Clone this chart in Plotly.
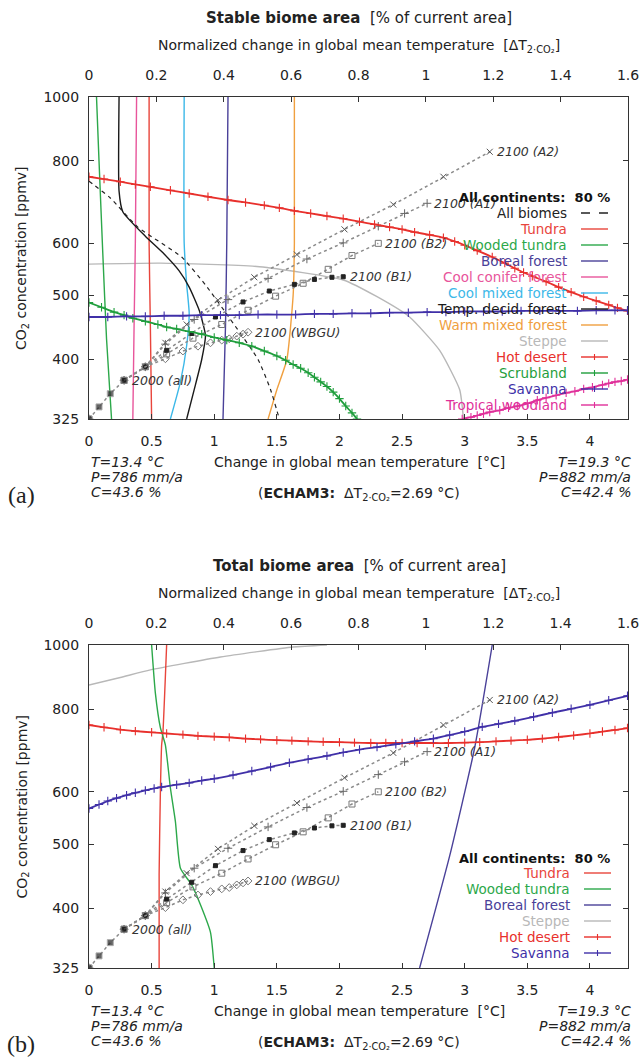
import numpy as np
import plotly.graph_objects as go

W, H = 643, 1057
FONT = "DejaVu Sans"

# ---------------- data (ΔT in °C, CO2 in ppmv) ----------------
# Panel (a): stable biome area, 80 % contours
allb_T = [0, 0.05, 0.17, 0.39, 0.74, 0.93, 1.13, 1.35, 1.45, 1.52]
allb_C = [745, 733, 703, 635, 572, 519, 460, 400, 360, 325]
tdec_T = [0.24, 0.24, 0.27, 0.45, 0.60, 0.72, 0.80, 0.88, 0.93, 0.90, 0.84, 0.78]
tdec_C = [1000, 720, 670, 615, 578, 545, 515, 475, 435, 400, 360, 325]
wtun_a_T = [0.06, 0.08, 0.11, 0.14, 0.18]
wtun_a_C = [1000, 800, 580, 430, 325]
ccon_T = [0.38, 0.37, 0.36, 0.35]
ccon_C = [1000, 600, 450, 325]
tun_a_T = [0.48, 0.48, 0.49, 0.50]
tun_a_C = [1000, 600, 450, 325]
cmix_T = [0.76, 0.76, 0.78, 0.80, 0.78, 0.73, 0.65]
cmix_C = [1000, 600, 520, 470, 420, 370, 325]
bor_a_T = [1.11, 1.10, 1.09, 1.07]
bor_a_C = [1000, 600, 450, 325]
wmix_T = [1.64, 1.64, 1.63, 1.58, 1.50, 1.43]
wmix_C = [1000, 600, 500, 400, 360, 325]
step_a_T = [0, 0.57, 1.36, 2.03, 2.30, 2.56, 2.80, 2.96, 2.99]
step_a_C = [558, 560, 553, 528, 498, 464, 413, 360, 325]
hdes_a_T = [0, 0.12, 0.25, 0.37, 0.49, 0.65, 0.8, 0.95, 1.11, 1.25, 1.4, 1.52, 1.64, 1.77, 1.9, 2.03, 2.16, 2.28, 2.4,
            2.5, 2.6, 2.72, 2.83, 2.92, 3.0, 3.1, 3.22, 3.32, 3.4, 3.47, 3.54, 3.65, 3.75, 3.85, 3.95, 4.05, 4.15, 4.22, 4.3]
hdes_a_C = [757, 751, 744, 737, 731, 722, 714, 706, 698, 692, 685, 679, 672, 666, 660, 654, 647, 641, 635,
            630, 624, 618, 612, 604, 596, 585, 572, 560, 550, 542, 535, 525, 515, 506, 498, 491, 484, 479, 474]
scrub_T = [0, 0.1, 0.2, 0.28, 0.35, 0.45, 0.55, 0.62, 0.7, 0.8, 0.9, 1.0, 1.10, 1.2, 1.3, 1.4, 1.5, 1.57, 1.63, 1.69,
           1.75, 1.8, 1.85, 1.9, 1.95, 2.0, 2.05, 2.1, 2.14]
scrub_C = [488, 480, 472, 467, 462, 457, 452, 448, 445, 441, 437, 432, 428, 424, 419, 412, 405, 399, 393, 388,
           382, 376, 370, 364, 357, 349, 340, 332, 325]
sav_a_T = [0, 0.15, 0.3, 0.45, 0.6, 0.75, 0.9, 1.05, 1.2, 1.35, 1.5, 1.65, 1.8, 1.95, 2.1, 2.25, 2.4, 2.55, 2.7, 2.85,
           3.0, 3.15, 3.3, 3.45, 3.6, 3.75, 3.9, 4.05, 4.2, 4.3]
sav_a_C = [464, 464, 465, 465, 466, 466, 467, 467, 467, 468, 468, 468, 469, 469, 470, 470, 471, 471, 472, 472,
           473, 473, 473, 474, 474, 474, 474, 475, 475, 475]
trop_T = [2.98, 3.05, 3.1, 3.15, 3.2, 3.28, 3.35, 3.42, 3.5, 3.58, 3.65, 3.73, 3.81, 3.88, 3.95, 4.02, 4.1, 4.15, 4.2, 4.25, 4.3]
trop_C = [325, 327, 329, 331, 333, 335, 338, 340, 343, 347, 350, 353, 356, 358, 361, 363, 366, 368, 370, 371, 373]

# Panel (b): total biome area, 80 % contours
step_b_T = [0, 0.25, 0.49, 1.05, 1.63, 1.90]
step_b_C = [870, 893, 917, 959, 993, 1000]
tun_b_T = [0.62, 0.59, 0.58, 0.57, 0.56, 0.56]
tun_b_C = [1000, 736, 706, 600, 450, 325]
wtun_b_T = [0.50, 0.53, 0.57, 0.61, 0.65, 0.69, 0.73, 0.82, 0.89, 0.97, 1.00]
wtun_b_C = [1000, 846, 750, 706, 608, 541, 460, 434, 405, 368, 325]
bor_b_T = [3.22, 3.08, 2.88, 2.64]
bor_b_C = [1000, 700, 480, 325]
hdes_b_T = [0, 0.12, 0.25, 0.37, 0.5, 0.62, 0.75, 0.87, 1.0, 1.12, 1.25, 1.37, 1.5, 1.62, 1.75, 1.87, 2.0, 2.12, 2.25,
            2.37, 2.5, 2.62, 2.75, 2.87, 3.0, 3.12, 3.25, 3.37, 3.5, 3.62, 3.75, 3.87, 4.0, 4.1, 4.2, 4.3]
hdes_b_C = [757, 751, 745, 741, 738, 735, 732, 729, 727, 725, 722, 720, 718, 717, 715, 714, 713, 712, 711,
            711, 711, 711, 711, 711, 712, 713, 715, 717, 719, 722, 726, 730, 735, 740, 744, 749]
sav_b_T = [0, 0.08, 0.15, 0.22, 0.3, 0.37, 0.45, 0.52, 0.58, 0.7, 0.8, 0.9, 1.0, 1.15, 1.3, 1.45, 1.6, 1.75, 1.9, 2.03,
           2.16, 2.3, 2.45, 2.6, 2.75, 2.88, 3.0, 3.14, 3.27, 3.4, 3.55, 3.7, 3.85, 4.0, 4.15, 4.3]
sav_b_C = [566, 574, 581, 587, 593, 598, 603, 607, 610, 615, 619, 624, 628, 636, 645, 654, 664, 672, 680, 688,
           695, 701, 708, 715, 722, 731, 740, 752, 760, 768, 779, 790, 801, 812, 825, 838]

# Emission scenario trajectories (same in both panels), 2000..2100 by decade
hist_T = [0, 0.08, 0.17, 0.28]
hist_C = [325, 339, 355, 372]
A2_T = [0.28, 0.45, 0.61, 0.78, 1.03, 1.32, 1.66, 2.04, 2.43, 2.83, 3.20]
A2_C = [372, 390, 424, 452, 492, 533, 577, 630, 687, 757, 826]
A1_T = [0.28, 0.45, 0.61, 0.84, 1.11, 1.43, 1.74, 2.03, 2.31, 2.52, 2.70]
A1_C = [372, 390, 422, 460, 493, 531, 568, 601, 637, 666, 690]
B2_T = [0.28, 0.45, 0.62, 0.83, 1.06, 1.27, 1.49, 1.71, 1.91, 2.10, 2.31]
B2_C = [372, 390, 408, 431, 452, 475, 499, 522, 548, 575, 600]
B1_T = [0.28, 0.45, 0.62, 0.82, 1.01, 1.23, 1.44, 1.64, 1.80, 1.94, 2.03]
B1_C = [372, 390, 413, 438, 464, 489, 508, 520, 529, 533, 534]
WB_T = [0.28, 0.45, 0.61, 0.75, 0.87, 0.97, 1.06, 1.12, 1.18, 1.23, 1.27]
WB_C = [372, 390, 401, 412, 419, 424, 428, 430, 434, 437, 440]

x_ticks = [0, 0.5, 1, 1.5, 2, 2.5, 3, 3.5, 4]
x_ticklabels = ["0", "0.5", "1", "1.5", "2", "2.5", "3", "3.5", "4"]
xn_ticks = [0, 0.2, 0.4, 0.6, 0.8, 1.0, 1.2, 1.4, 1.6]
xn_ticklabels = ["0", "0.2", "0.4", "0.6", "0.8", "1", "1.2", "1.4", "1.6"]
y_ticks = [325, 400, 500, 600, 800, 1000]
y_ticklabels = ["325", "400", "500", "600", "800", "1000"]
DT2CO2 = 2.69

# colours
C_ALL = "#222222"
C_TUN = "#e8453c"
C_WTUN = "#2ca84a"
C_BOR = "#4a4199"
C_CCON = "#e8559b"
C_CMIX = "#3cb8e8"
C_TDEC = "#1a1a1a"
C_WMIX = "#f0a040"
C_STEP = "#b8b8b8"
C_HDES = "#e8302c"
C_SCRUB = "#1f9e3c"
C_SAV = "#4030a8"
C_TROP = "#e0309a"
C_SCEN = "#8a8a8a"

def px(x):
    return x / W

def py(y):
    return 1 - y / H

fig = go.Figure()

def curve(T, C, color, xa, ya, dash="solid", width=1.4, marks=False):
    fig.add_trace(go.Scatter(
        x=T, y=C, xaxis=xa, yaxis=ya,
        mode="lines+markers" if marks else "lines",
        line=dict(color=color, width=width, dash=dash, shape="spline", smoothing=0.5),
        marker=dict(symbol="cross-thin", size=6, line=dict(color=color, width=1.1)),
        showlegend=False, hoverinfo="skip"))

def scen(xa, ya):
    specs = [
        (A2_T, A2_C, "x-thin", 6, "#555555"),
        (A1_T, A1_C, "cross-thin", 6, "#666666"),
        (B2_T, B2_C, "square-open", 6, "#777777"),
        (B1_T, B1_C, "square", 4, "#222222"),
        (WB_T, WB_C, "diamond-open", 6, "#777777"),
    ]
    for T, C, sym, sz, col in specs:
        fig.add_trace(go.Scatter(
            x=T, y=C, xaxis=xa, yaxis=ya, mode="lines+markers",
            line=dict(color=C_SCEN, width=1.5, dash="dot"),
            marker=dict(symbol=sym, size=sz, color=col, line=dict(color=col, width=1)),
            showlegend=False, hoverinfo="skip"))
    fig.add_trace(go.Scatter(
        x=hist_T, y=hist_C, xaxis=xa, yaxis=ya, mode="lines+markers",
        line=dict(color=C_SCEN, width=1.5, dash="dot"),
        marker=dict(symbol=["circle", "square", "square", "square"], size=[8, 6, 6, 6], color="#222222"),
        showlegend=False, hoverinfo="skip"))

def top_axis_carrier(xa, ya):
    # invisible trace on the normalized top axis so plotly draws it
    fig.add_trace(go.Scatter(
        x=[t / DT2CO2 for t in hist_T], y=hist_C, xaxis=xa, yaxis=ya, mode="markers",
        marker=dict(opacity=0), showlegend=False, hoverinfo="skip"))

# ---- panel (a)
top_axis_carrier("x2", "y")
curve(step_a_T, step_a_C, C_STEP, "x", "y")
curve(wtun_a_T, wtun_a_C, C_WTUN, "x", "y")
curve(ccon_T, ccon_C, C_CCON, "x", "y")
curve(tun_a_T, tun_a_C, C_TUN, "x", "y")
curve(cmix_T, cmix_C, C_CMIX, "x", "y")
curve(bor_a_T, bor_a_C, C_BOR, "x", "y")
curve(wmix_T, wmix_C, C_WMIX, "x", "y")
curve(tdec_T, tdec_C, C_TDEC, "x", "y")
curve(allb_T, allb_C, C_ALL, "x", "y", dash="4px,4px", width=1.2)
scen("x", "y")
curve(hdes_a_T, hdes_a_C, C_HDES, "x", "y", width=1.8, marks=True)
curve(scrub_T, scrub_C, C_SCRUB, "x", "y", width=1.8, marks=True)
curve(sav_a_T, sav_a_C, C_SAV, "x", "y", width=1.8, marks=True)
curve(trop_T, trop_C, C_TROP, "x", "y", width=1.8, marks=True)

# ---- panel (b)
top_axis_carrier("x4", "y2")
curve(step_b_T, step_b_C, C_STEP, "x3", "y2")
curve(tun_b_T, tun_b_C, C_TUN, "x3", "y2")
curve(wtun_b_T, wtun_b_C, C_WTUN, "x3", "y2")
curve(bor_b_T, bor_b_C, C_BOR, "x3", "y2")
scen("x3", "y2")
curve(hdes_b_T, hdes_b_C, C_HDES, "x3", "y2", width=1.8, marks=True)
curve(sav_b_T, sav_b_C, C_SAV, "x3", "y2", width=1.8, marks=True)

X0, X1 = 89, 628
YA0, YA1 = 97, 419
YB0, YB1 = 645, 968

tickfont = dict(family=FONT, size=14, color="#222")
axline = dict(showline=True, linecolor="#333", linewidth=1.3, showgrid=False, zeroline=False,
              ticks="inside", ticklen=5, tickcolor="#333", tickwidth=1.2, tickfont=tickfont,
              automargin=False)

def xbottom(anchor):
    return dict(domain=[px(X0), px(X1)], anchor=anchor, range=[0, 1.6 * DT2CO2],
                tickvals=x_ticks, ticktext=x_ticklabels, ticklabelstandoff=9, **axline)

def xtop(over, anchor):
    return dict(domain=[px(X0), px(X1)], anchor=anchor, overlaying=over, side="top",
                range=[0, 1.6], tickvals=xn_ticks, ticktext=xn_ticklabels,
                ticklabelstandoff=10, **axline)

def yax(top, bot, anchor):
    return dict(domain=[py(bot), py(top)], anchor=anchor, type="log",
                range=[np.log10(325), 3], tickvals=y_ticks, ticktext=y_ticklabels,
                mirror="ticks", ticklabelstandoff=6, **axline)

fig.update_layout(
    width=W, height=H, margin=dict(l=0, r=0, t=0, b=0, pad=0, autoexpand=False),
    paper_bgcolor="white", plot_bgcolor="white", showlegend=False,
    xaxis=xbottom("y"), xaxis2=xtop("x", "y"), yaxis=yax(YA0, YA1, "x"),
    xaxis3=xbottom("y2"), xaxis4=xtop("x3", "y2"), yaxis2=yax(YB0, YB1, "x3"),
)

ann = []
shapes = []

def text(x, y, s, size=13, anchor="center", color="#222", family=FONT, angle=0, xref="paper", yref="paper", xshift=0):
    ann.append(dict(x=x, y=y, xref=xref, yref=yref, text=s, showarrow=False,
                    xanchor=anchor, yanchor="middle", textangle=angle, xshift=xshift,
                    font=dict(family=family, size=size, color=color)))

def panel_text(top, bot, title, letter):
    cx = px(359)
    text(cx, py(top - 79), "<b>" + title + "</b>  [% of current area]", size=15)
    text(cx, py(top - 51), "Normalized change in global mean temperature  [ΔT<sub>2·CO₂</sub>]", size=14)
    text(cx, py(bot + 43), "Change in global mean temperature  [°C]", size=14)
    text(cx, py(bot + 75), "(<b>ECHAM3:</b>  ΔT<sub>2·CO₂</sub>=2.69 °C)", size=14)
    for i, s in enumerate(["T=13.4 °C", "P=786 mm/a", "C=43.6 %"]):
        text(px(89), py(bot + 43 + 15 * i), "<i>" + s + "</i>", size=14, anchor="left")
    for i, s in enumerate(["T=19.3 °C", "P=882 mm/a", "C=42.4 %"]):
        text(px(633), py(bot + 43 + 15 * i), "<i>" + s + "</i>", size=14, anchor="right")
    text(px(21), py(bot + 76), letter, size=24, family="Liberation Serif")
    text(px(22), py((top + bot) / 2), "CO<sub>2</sub> concentration [ppmv]", size=14, angle=-90)

panel_text(YA0, YA1, "Stable biome area", "(a)")
panel_text(YB0, YB1, "Total biome area", "(b)")

def scen_labels(xa, ya):
    labs = [(A2_T, A2_C, "2100 (A2)"), (A1_T, A1_C, "2100 (A1)"), (B2_T, B2_C, "2100 (B2)"),
            (B1_T, B1_C, "2100 (B1)"), (WB_T, WB_C, "2100 (WBGU)")]
    for T, C, s in labs:
        text(T[-1], np.log10(C[-1]), "<i>" + s + "</i>", size=12.5, anchor="left",
             color="#333", xref=xa, yref=ya, xshift=5)
    text(hist_T[-1], np.log10(hist_C[-1]), "<i>2000 (all)</i>", size=12.5, anchor="left",
         color="#333", xref=xa, yref=ya, xshift=6)

scen_labels("x", "y")
scen_labels("x3", "y2")

def legend(title_y, first_y, entries, text_right, s0, s1):
    text(px(612), py(title_y), "<b>All continents:  80 %</b>", size=13, anchor="right", color="#111")
    for i, (name, col, dash, marks) in enumerate(entries):
        y = first_y + 16 * i
        text(px(text_right), py(y), name, size=13.5, anchor="right", color=col)
        shapes.append(dict(type="line", xref="paper", yref="paper", x0=px(s0), x1=px(s1),
                           y0=py(y), y1=py(y), line=dict(color=col, width=1.4, dash=dash)))
        if marks:
            xm = (s0 + s1) / 2
            shapes.append(dict(type="line", xref="paper", yref="paper", x0=px(xm), x1=px(xm),
                               y0=py(y - 3), y1=py(y + 3), line=dict(color=col, width=1.1)))

legend(197, 213, [
    ("All biomes", C_ALL, "dash", False),
    ("Tundra", C_TUN, "solid", False),
    ("Wooded tundra", C_WTUN, "solid", False),
    ("Boreal forest", C_BOR, "solid", False),
    ("Cool conifer forest", C_CCON, "solid", False),
    ("Cool mixed forest", C_CMIX, "solid", False),
    ("Temp. decid. forest", C_TDEC, "solid", False),
    ("Warm mixed forest", C_WMIX, "solid", False),
    ("Steppe", C_STEP, "solid", False),
    ("Hot desert", C_HDES, "solid", True),
    ("Scrubland", C_SCRUB, "solid", True),
    ("Savanna", C_SAV, "solid", True),
    ("Tropical woodland", C_TROP, "solid", True),
], 569, 581, 608)

legend(858, 873, [
    ("Tundra", C_TUN, "solid", False),
    ("Wooded tundra", C_WTUN, "solid", False),
    ("Boreal forest", C_BOR, "solid", False),
    ("Steppe", C_STEP, "solid", False),
    ("Hot desert", C_HDES, "solid", True),
    ("Savanna", C_SAV, "solid", True),
], 572, 584, 611)

fig.update_layout(annotations=ann, shapes=shapes)
fig.write_html("out.html")
